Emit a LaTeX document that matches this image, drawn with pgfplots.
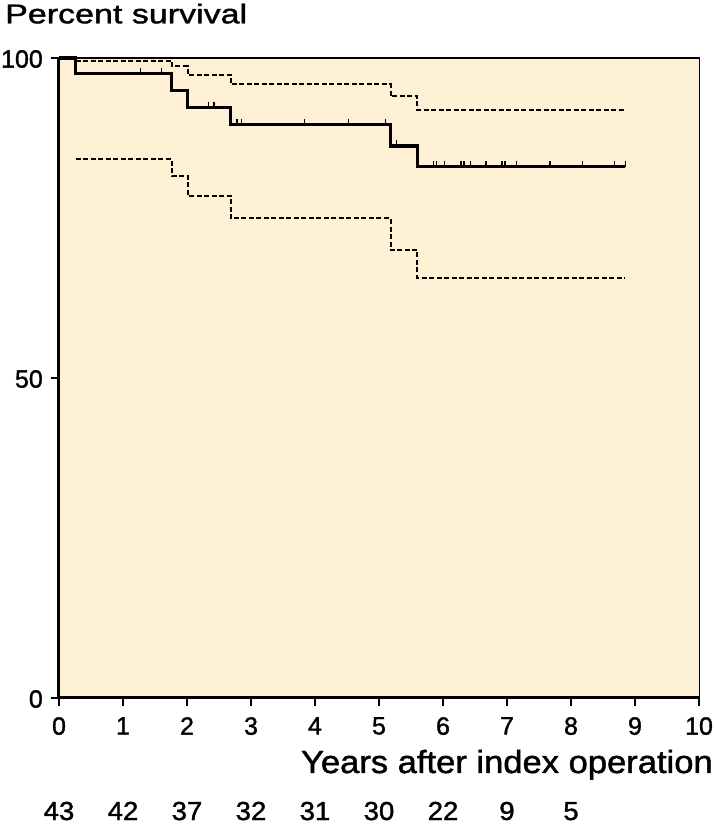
\documentclass[border=0pt]{standalone}
\usepackage{pgfplots}
\pgfplotsset{compat=1.18}
\usepackage{fontspec}
\setmainfont[FakeBold=1.2]{Liberation Sans}
\newfontfamily\titlefont[FakeStretch=1.26,FakeBold=1.4]{Liberation Sans}
\newfontfamily\xlabfont[FakeStretch=1.08,FakeBold=1.4]{Liberation Sans}
\newfontfamily\tickfamily[Scale=2.5,FakeBold=1.4]{Liberation Sans}
\newfontfamily\riskfamily[Scale=2.6,FakeStretch=1.06,FakeBold=1.4]{Liberation Sans}
\definecolor{bgbeige}{RGB}{254,240,212}

\begin{document}
\begin{tikzpicture}
\useasboundingbox (0,0) rectangle (714pt,824pt);
\begin{axis}[
  at={(59pt,126pt)}, anchor=south west,
  scale only axis, width=640pt, height=640pt,
  xmin=0, xmax=10, ymin=0, ymax=100,
  xtick={0,1,2,3,4,5,6,7,8,9,10}, ytick={0,50,100},
  tick pos=left, tick align=outside,
  major tick length=8pt,
  axis background/.style={fill=bgbeige},
  axis line style={line width=1pt, black},
  tick style={line width=2pt, black},
  /pgf/number format/assume math mode=true,
  tick label style={font=\normalsize\tickfamily},
  xticklabel style={inner sep=2pt, yshift=-9pt},
  yticklabel style={inner sep=4pt, xshift=-4pt, yshift=-1pt},
  clip=false,
]
% upper confidence limit
\addplot[const plot, black, line width=2pt, dash pattern=on 5pt off 2.5pt] coordinates {
 (0.26,99.6) (1.76,98.75) (2.01,97.4) (2.68,95.9) (5.18,94.0) (5.6,91.9) (8.85,91.9)};
% lower confidence limit
\addplot[const plot, black, line width=2pt, dash pattern=on 5pt off 2.5pt] coordinates {
 (0.26,84.2) (1.76,81.6) (2.01,78.5) (2.68,74.95) (5.18,70.0) (5.6,65.6) (8.85,65.6)};
% survival curve
\addplot[const plot, black, line width=3.2pt] coordinates {
 (0,100) (0.26,97.6) (1.76,94.9) (2.01,92.3) (2.68,89.6) (5.18,86.25) (5.6,83.0) (8.85,83.0)};
% censored observations
\addplot[only marks, mark=|, mark size=2.8pt, mark options={line width=1.4pt, yshift=2.8pt}] coordinates {
 (1.27,97.6) (1.6,97.6)
 (2.34,92.3) (2.42,92.3)
 (2.78,89.6) (2.85,89.6) (3.84,89.6) (4.52,89.6) (5.1,89.6)
 (5.27,86.25)
 (5.85,83) (5.90,83) (6.02,83) (6.28,83) (6.33,83) (6.43,83) (6.67,83)
 (6.92,83) (6.97,83) (7.15,83) (7.67,83) (8.18,83) (8.68,83) (8.85,83)};
% frame
\draw[line width=2pt] (rel axis cs:0,1) -- (rel axis cs:1,1);
\draw[line width=0.8pt] (rel axis cs:1,1) -- (rel axis cs:1,0);
\draw[line width=3pt] (rel axis cs:0,1.002) -- (rel axis cs:0,0) -- (rel axis cs:1.002,0);
% numbers at risk
\node[anchor=base, inner sep=0pt, yshift=-122pt, font=\normalsize\riskfamily] at (axis cs:0,0) {43};
\node[anchor=base, inner sep=0pt, yshift=-122pt, font=\normalsize\riskfamily] at (axis cs:1,0) {42};
\node[anchor=base, inner sep=0pt, yshift=-122pt, font=\normalsize\riskfamily] at (axis cs:2,0) {37};
\node[anchor=base, inner sep=0pt, yshift=-122pt, font=\normalsize\riskfamily] at (axis cs:3,0) {32};
\node[anchor=base, inner sep=0pt, yshift=-122pt, font=\normalsize\riskfamily] at (axis cs:4,0) {31};
\node[anchor=base, inner sep=0pt, yshift=-122pt, font=\normalsize\riskfamily] at (axis cs:5,0) {30};
\node[anchor=base, inner sep=0pt, yshift=-122pt, font=\normalsize\riskfamily] at (axis cs:6,0) {22};
\node[anchor=base, inner sep=0pt, yshift=-122pt, font=\normalsize\riskfamily] at (axis cs:7,0) {9};
\node[anchor=base, inner sep=0pt, yshift=-122pt, font=\normalsize\riskfamily] at (axis cs:8,0) {5};
\end{axis}
\node[anchor=base west, inner sep=0pt, font=\titlefont\fontsize{27}{32}\selectfont] at (5pt,800.7pt) {Percent survival};
\node[anchor=base east, inner sep=0pt, font=\xlabfont\fontsize{32}{38}\selectfont] at (713pt,51pt) {Years after index operation};
\end{tikzpicture}
\end{document}
